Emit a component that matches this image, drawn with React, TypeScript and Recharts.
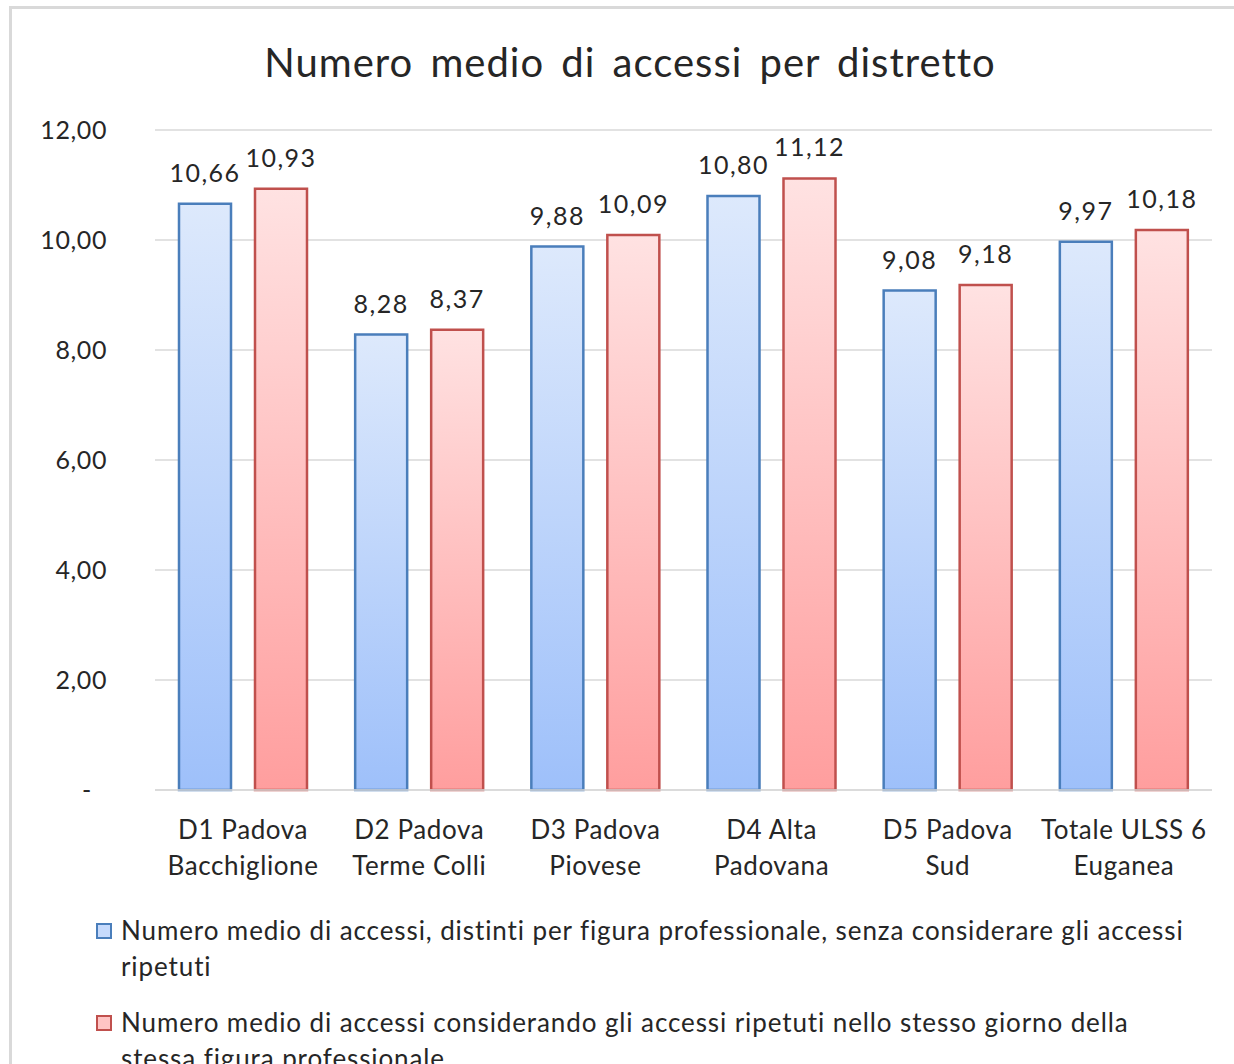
import React from "react";
import { BarChart, Bar, XAxis, YAxis, CartesianGrid, LabelList } from "recharts";

const districts = [
  "D1 Padova Bacchiglione",
  "D2 Padova Terme Colli",
  "D3 Padova Piovese",
  "D4 Alta Padovana",
  "D5 Padova Sud",
  "Totale ULSS 6 Euganea",
];
const districtLines = [
  ["D1 Padova", "Bacchiglione"],
  ["D2 Padova", "Terme Colli"],
  ["D3 Padova", "Piovese"],
  ["D4 Alta", "Padovana"],
  ["D5 Padova", "Sud"],
  ["Totale ULSS 6", "Euganea"],
];
const distinctAccess = [10.66, 8.28, 9.88, 10.8, 9.08, 9.97];
const repeatedAccess = [10.93, 8.37, 10.09, 11.12, 9.18, 10.18];
const yTicks = [0, 2, 4, 6, 8, 10, 12];
const seriesNames = [
  "Numero medio di accessi, distinti per figura professionale, senza considerare gli accessi ripetuti",
  "Numero medio di accessi considerando gli accessi ripetuti nello stesso giorno della stessa figura professionale",
];
const title = "Numero medio di accessi per distretto";

const data = districts.map((name, i) => ({
  name,
  distinct: distinctAccess[i],
  repeated: repeatedAccess[i],
}));

const FONT = "Lato, 'Open Sans', sans-serif";
const TEXT = "#262626";
const fmt = (v: number) => v.toFixed(2).replace(".", ",");

const XTick = (props: any) => {
  const { x, y, payload } = props;
  const idx = districts.indexOf(payload.value);
  const lines = districtLines[idx] || [payload.value];
  return (
    <text
      x={x}
      y={y + 47}
      textAnchor="middle"
      fill={TEXT}
      fontSize={26}
      fontFamily={FONT}
      letterSpacing={0.6}
    >
      {lines.map((l, i) => (
        <tspan key={i} x={x} dy={i === 0 ? 0 : 36}>
          {l}
        </tspan>
      ))}
    </text>
  );
};

const YTick = (props: any) => {
  const { x, y, payload } = props;
  const zero = payload.value === 0;
  return (
    <text
      x={zero ? x - 15 : x}
      y={y + 9}
      textAnchor="end"
      fill={TEXT}
      fontSize={25}
      fontFamily={FONT}
      letterSpacing={0.6}
    >
      {zero ? "-" : fmt(payload.value)}
    </text>
  );
};

const legendColors = [
  { fill: "#c6dafc", stroke: "#4a7ebb" },
  { fill: "#ffc4c4", stroke: "#c0504d" },
];

export default function App() {
  return (
    <div style={{ position: "relative", width: 1234, height: 1064, overflow: "hidden", background: "#fff" }}>
      <style>{`body{margin:0}`}</style>
      <div
        style={{
          position: "absolute",
          left: 9,
          top: 6,
          width: 1300,
          height: 1100,
          borderLeft: "3px solid #d9d9d9",
          borderTop: "3px solid #d9d9d9",
        }}
      />
      <div
        style={{
          position: "absolute",
          left: 130,
          width: 1000,
          top: 37,
          textAlign: "center",
          fontFamily: FONT,
          fontSize: 40,
          color: TEXT,
          letterSpacing: 1,
          wordSpacing: 6,
          lineHeight: "50px",
        }}
      >
        {title}
      </div>
      <div style={{ position: "absolute", left: 0, top: 0 }}>
        <BarChart
          width={1234}
          height={900}
          data={data}
          margin={{ top: 130, right: 22, left: 0, bottom: 10 }}
          barGap={24}
          barSize={52}
        >
          <defs>
            <linearGradient id="gBlue" x1="0" y1="0" x2="0" y2="1">
              <stop offset="0%" stopColor="#dde9fc" />
              <stop offset="100%" stopColor="#9ec0fa" />
            </linearGradient>
            <linearGradient id="gRed" x1="0" y1="0" x2="0" y2="1">
              <stop offset="0%" stopColor="#ffe2e2" />
              <stop offset="100%" stopColor="#ff9e9e" />
            </linearGradient>
          </defs>
          <CartesianGrid vertical={false} stroke="#d9d9d9" strokeWidth={1.5} />
          <XAxis
            dataKey="name"
            height={100}
            tickLine={false}
            tickSize={0}
            axisLine={{ stroke: "#d9d9d9", strokeWidth: 1.5 }}
            tick={<XTick />}
            interval={0}
          />
          <YAxis
            width={155}
            domain={[0, 12]}
            ticks={yTicks}
            axisLine={false}
            tickLine={false}
            tickSize={0}
            tickMargin={48}
            tick={<YTick />}
          />
          <Bar dataKey="distinct" name={seriesNames[0]} fill="url(#gBlue)" stroke="#4a7ebb" strokeWidth={2.5} isAnimationActive={false}>
            <LabelList dataKey="distinct" position="top" offset={22} formatter={(v: any) => fmt(Number(v))} fill={TEXT} fontSize={25} fontFamily={FONT} letterSpacing={1.5} />
          </Bar>
          <Bar dataKey="repeated" name={seriesNames[1]} fill="url(#gRed)" stroke="#c0504d" strokeWidth={2.5} isAnimationActive={false}>
            <LabelList dataKey="repeated" position="top" offset={22} formatter={(v: any) => fmt(Number(v))} fill={TEXT} fontSize={25} fontFamily={FONT} letterSpacing={1.5} />
          </Bar>
        </BarChart>
      </div>
      {seriesNames.map((s, i) => (
        <div
          key={s}
          style={{
            position: "absolute",
            left: 121,
            top: 912 + i * 92,
            width: 1070,
            fontFamily: FONT,
            fontSize: 26,
            letterSpacing: 0.9,
            lineHeight: "36px",
            color: TEXT,
          }}
        >
          <span
            style={{
              position: "absolute",
              left: -25,
              top: 11,
              width: 12,
              height: 12,
              background: legendColors[i].fill,
              border: `2px solid ${legendColors[i].stroke}`,
            }}
          />
          {s}
        </div>
      ))}
    </div>
  );
}
